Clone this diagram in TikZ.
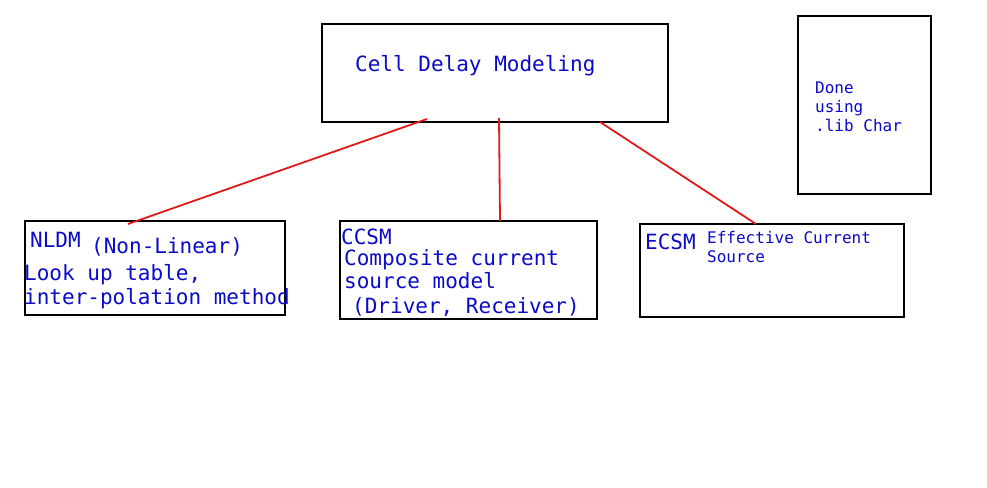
\documentclass[tikz,border=0pt]{standalone}
\usepackage{fontspec}
\setmonofont{DejaVu Sans Mono}
\definecolor{txtblue}{RGB}{10,10,200}
\definecolor{linkred}{RGB}{225,25,25}
\begin{document}
\begin{tikzpicture}[x=1pt,y=-1pt,
  box/.style={draw=black,line width=1.6pt},
  big/.style={inner sep=0pt,anchor=base west,text=txtblue,font=\ttfamily\fontsize{21}{25}\selectfont},
  small/.style={inner sep=0pt,anchor=base west,text=txtblue,font=\ttfamily\fontsize{16}{19}\selectfont},
  link/.style={draw=linkred,line width=1.8pt}]
\useasboundingbox (0,0) rectangle (987,487);
\fill[white] (0,0) rectangle (987,487);
% boxes
\draw[box] (322,24) rectangle (668,122);
\draw[box] (798,16) rectangle (931,194);
\draw[box] (25,221) rectangle (285,315);
\draw[box] (340,221) rectangle (597,319);
\draw[box] (640,224) rectangle (904,317);
% texts
\node[big] (top) at (355,71) {Cell Delay Modeling};
\node[small] (done1) at (815,93) {Done};
\node[small] (done2) at (815,112) {using};
\node[small] (done3) at (815,131) {.lib Char};
\node[big] (nldm) at (30,247) {NLDM};
\node[big] (nonlin) at (91,253) {(Non-Linear)};
\node[big] (look) at (24,280) {Look up table,};
\node[big] (inter) at (24,304) {inter-polation method};
\node[big] (ccsm) at (341,244) {CCSM};
\node[big] (comp) at (344,265) {Composite current};
\node[big] (src) at (344,288) {source model};
\node[big] (drv) at (352,313) {(Driver, Receiver)};
\node[big] (ecsm) at (645,249) {ECSM};
\node[small] (eff) at (707,243) {Effective Current};
\node[small] (esrc) at (707,262) {Source};
% connector endpoints
\coordinate (t1) at (427,119);
\coordinate (t2) at (499,118);
\coordinate (t3) at (600,122);
\coordinate (b1) at (128,224);
\coordinate (b2) at (500,221);
\coordinate (b3) at (756,224);
\draw[link] (t1) -- (b1);
\draw[link] (t2) -- (b2);
\draw[link] (t3) -- (b3);
\end{tikzpicture}
\end{document}
